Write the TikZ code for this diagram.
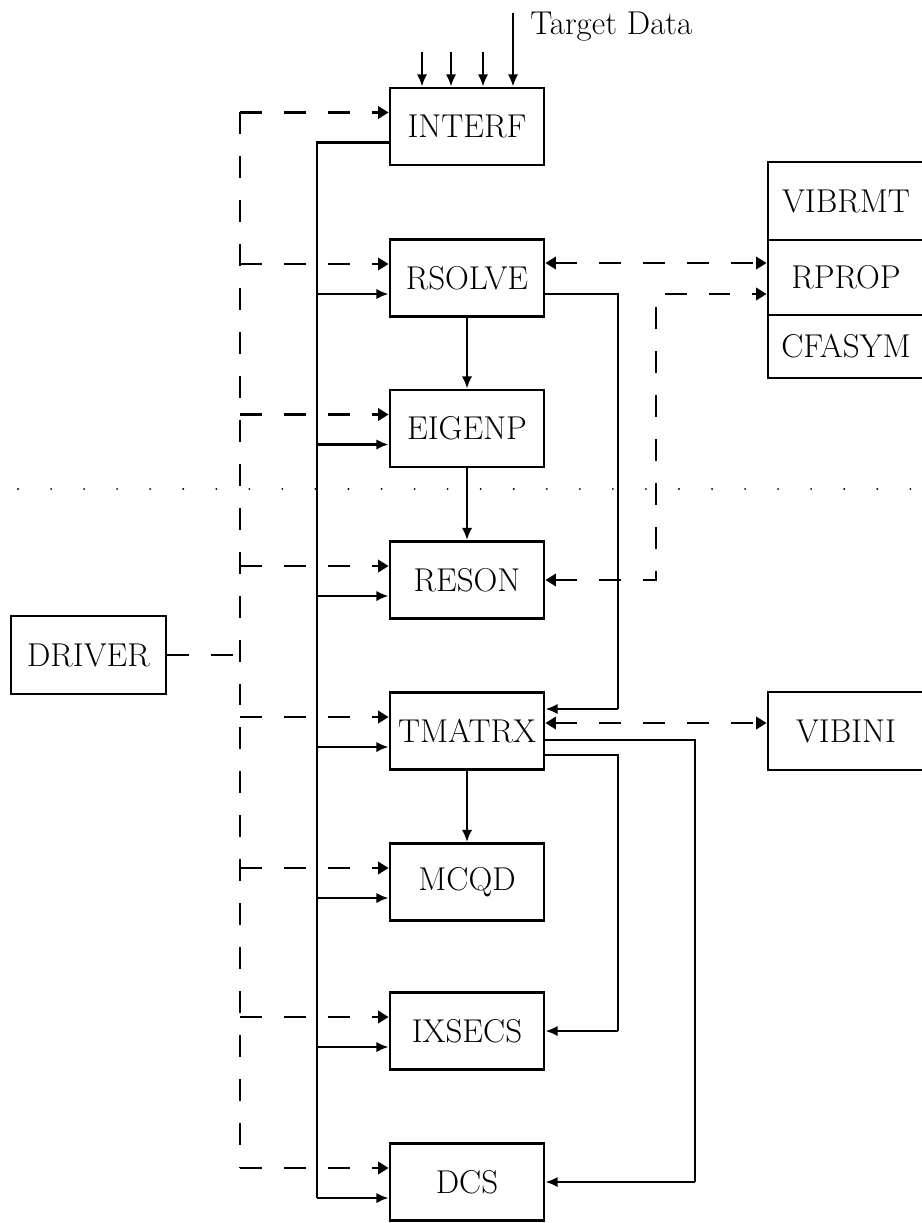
\documentclass[tikz,border=0pt]{standalone}
\usetikzlibrary{arrows.meta,calc}
\begin{document}
\begin{tikzpicture}[x=0.02cm,y=-0.02cm,
  font=\fontsize{18.8}{22}\selectfont,
  box/.style={draw,line width=1.6pt,minimum width=3.08cm,minimum height=1.54cm,inner sep=0pt},
  link/.style={line width=1.6pt},
  flow/.style={link,-{Latex[length=7pt,width=6pt]}},
  ctrl/.style={link,dash pattern=on 12.5pt off 12.5pt},
  ctrlto/.style={ctrl,-{Triangle[length=6pt,width=7pt]}},
  ctrlboth/.style={ctrl,{Triangle[length=6pt,width=7pt]}-{Triangle[length=6pt,width=7pt]}},
  ]
\useasboundingbox (0,0) rectangle (922,1223);
\clip (0,0) rectangle (922,1223);

% separator
\coordinate (sepL) at (18,489);
\coordinate (sepR) at (922,489);
\draw[line width=1.2pt,line cap=round,dash pattern=on 0.01pt off 18.8pt] (sepL) -- (sepR);

% main chain of routines
\node[box] (INTERF) at (467,126.5) {INTERF};
\node[box] (RSOLVE) at (467,278)   {RSOLVE};
\node[box] (EIGENP) at (467,428.5) {EIGENP};
\node[box] (RESON)  at (467,580)   {RESON};
\node[box] (TMATRX) at (467,731)   {TMATRX};
\node[box] (MCQD)   at (467,882)   {MCQD};
\node[box] (IXSECS) at (467,1031)  {IXSECS};
\node[box] (DCS)    at (467,1182)  {DCS};

\node[box,minimum width=3.1cm,minimum height=1.56cm] (DRIVER) at (88.5,655) {DRIVER};

% auxiliary routines on the right
\node[box,minimum width=3.12cm,minimum height=1.56cm] (VIBRMT) at (846,201)   {VIBRMT};
\node[box,minimum width=3.12cm,minimum height=1.50cm] (RPROP)  at (846,277.5) {RPROP};
\node[box,minimum width=3.12cm,minimum height=1.26cm] (CFASYM) at (846,346.5) {CFASYM};
\node[box,minimum width=3.12cm,minimum height=1.56cm] (VIBINI) at (846,731)   {VIBINI};

% input data
\node[anchor=base west,inner sep=0pt] (target) at (530,35) {Target Data};
\coordinate (in1) at (422,52);
\coordinate (in2) at (451,52);
\coordinate (in3) at (483,52);
\coordinate (in4) at (513,13);
\foreach \c in {in1,in2,in3,in4}
  \draw[flow] (\c) -- (\c |- INTERF.north);

% bus columns
\coordinate (bus)  at (317,0);
\coordinate (dbus) at (240,0);
\coordinate (rA)   at (618,0);
\coordinate (rB)   at (695,0);
\coordinate (rC)   at (656,0);

% solid data bus on the left
\foreach \n in {INTERF,RSOLVE,EIGENP,RESON,TMATRX,MCQD,IXSECS,DCS}{
  \coordinate (\n-s) at ($(\n.west)+(0,16)$);
  \coordinate (\n-d) at ($(\n.west)+(0,-14)$);
}
\draw[link] (INTERF-s) -| (bus |- DCS-s);
\foreach \n in {RSOLVE,EIGENP,RESON,TMATRX,MCQD,IXSECS,DCS}
  \draw[flow] (bus |- \n-s) -- (\n-s);

% dashed control lines from DRIVER
\draw[ctrl] (DRIVER.east) -- (dbus |- DRIVER.east);
\draw[ctrl] (dbus |- INTERF-d) -- (dbus |- DCS-d);
\foreach \n in {INTERF,RSOLVE,EIGENP,RESON,TMATRX,MCQD,IXSECS,DCS}
  \draw[ctrlto] (dbus |- \n-d) -- (\n-d);

% vertical flow between routines
\draw[flow] (RSOLVE.south) -- (EIGENP.north);
\draw[flow] (EIGENP.south) -- (RESON.north);
\draw[flow] (TMATRX.south) -- (MCQD.north);

% right-hand connections
\coordinate (RSOLVE-e)  at ($(RSOLVE.east)+(0,16)$);
\coordinate (RSOLVE-ed) at ($(RSOLVE.east)+(0,-15)$);
\coordinate (TMATRX-e1) at ($(TMATRX.east)+(0,-22)$);
\coordinate (TMATRX-e2) at ($(TMATRX.east)+(0,-8)$);
\coordinate (TMATRX-e3) at ($(TMATRX.east)+(0,9)$);
\coordinate (TMATRX-e4) at ($(TMATRX.east)+(0,24)$);
\coordinate (RPROP-b)   at ($(RPROP.west)+(0,16.5)$);

\draw[link] (RSOLVE-e) -| (rA |- TMATRX-e1);
\draw[flow] (rA |- TMATRX-e1) -- (TMATRX-e1);
\draw[ctrlboth] (RSOLVE-ed) -- (RPROP.west |- RSOLVE-ed);
\draw[ctrlboth] (RESON.east) -| (rC |- RPROP-b) -- (RPROP-b);
\draw[ctrlboth] (TMATRX-e2) -- (VIBINI.west |- TMATRX-e2);

\draw[link] (TMATRX-e3) -| (rB |- DCS.east);
\draw[flow] (rB |- DCS.east) -- (DCS.east);
\draw[link] (TMATRX-e4) -| (rA |- IXSECS.east);
\draw[flow] (rA |- IXSECS.east) -- (IXSECS.east);
\end{tikzpicture}
\end{document}
